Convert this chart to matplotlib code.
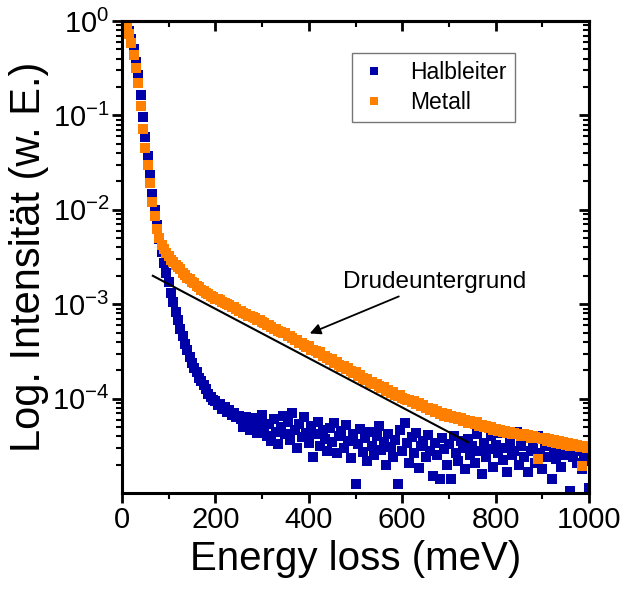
import numpy as np
import matplotlib
matplotlib.use("Agg")
import matplotlib.pyplot as plt
from matplotlib.ticker import LogLocator, LogFormatterMathtext, MultipleLocator, NullFormatter

plt.rcParams["font.family"] = ["Liberation Sans", "DejaVu Sans"]
plt.rcParams["mathtext.fontset"] = "custom"
plt.rcParams["mathtext.rm"] = "Liberation Sans"
plt.rcParams["mathtext.it"] = "Liberation Sans:italic"
plt.rcParams["mathtext.bf"] = "Liberation Sans:bold"

# energy channels (meV)
energy = np.arange(5, 1005, 5)

# log10 of intensity, one value per channel
metall_log = [
    -0.02, -0.06, -0.14, -0.23, -0.36, -0.50, -0.66, -0.90, -1.14, -1.34,
    -1.53, -1.72, -1.92, -2.07, -2.20, -2.30, -2.37, -2.42, -2.46, -2.49,
    -2.53, -2.55, -2.58, -2.61, -2.63, -2.67, -2.69, -2.72, -2.73, -2.76,
    -2.78, -2.81, -2.82, -2.85, -2.86, -2.88, -2.89, -2.91, -2.92, -2.94,
    -2.95, -2.96, -2.98, -2.99, -3.00, -3.01, -3.03, -3.03, -3.05, -3.07,
    -3.07, -3.09, -3.10, -3.12, -3.12, -3.14, -3.15, -3.17, -3.17, -3.19,
    -3.20, -3.22, -3.22, -3.24, -3.26, -3.26, -3.28, -3.29, -3.31, -3.31,
    -3.34, -3.34, -3.36, -3.38, -3.38, -3.41, -3.41, -3.43, -3.45, -3.44,
    -3.48, -3.48, -3.50, -3.52, -3.51, -3.55, -3.55, -3.57, -3.59, -3.58,
    -3.62, -3.61, -3.64, -3.66, -3.65, -3.69, -3.68, -3.71, -3.73, -3.72,
    -3.76, -3.75, -3.78, -3.80, -3.79, -3.83, -3.82, -3.85, -3.84, -3.87,
    -3.89, -3.88, -3.92, -3.91, -3.94, -3.93, -3.96, -3.97, -3.96, -3.99,
    -4.00, -4.02, -4.01, -4.04, -4.03, -4.06, -4.05, -4.08, -4.07, -4.10,
    -4.10, -4.12, -4.11, -4.14, -4.13, -4.16, -4.15, -4.18, -4.16, -4.19,
    -4.18, -4.21, -4.20, -4.22, -4.21, -4.24, -4.23, -4.26, -4.24, -4.26,
    -4.27, -4.25, -4.29, -4.28, -4.30, -4.29, -4.31, -4.30, -4.33, -4.32,
    -4.34, -4.33, -4.35, -4.34, -4.36, -4.35, -4.37, -4.36, -4.38, -4.37,
    -4.40, -4.38, -4.40, -4.39, -4.42, -4.40, -4.41, -4.64, -4.42, -4.43,
    -4.42, -4.45, -4.43, -4.46, -4.44, -4.47, -4.45, -4.48, -4.46, -4.49,
    -4.47, -4.50, -4.48, -4.50, -4.49, -4.51, -4.71, -4.50, -4.52, -4.51,
]

halbleiter_log = [
    0.00, -0.04, -0.11, -0.19, -0.30, -0.43, -0.57, -0.78, -1.02, -1.23,
    -1.43, -1.63, -1.83, -2.00, -2.16, -2.31, -2.45, -2.56, -2.67, -2.77,
    -2.88, -2.98, -3.08, -3.17, -3.26, -3.34, -3.42, -3.49, -3.56, -3.62,
    -3.68, -3.72, -3.78, -3.81, -3.86, -3.90, -3.95, -3.98, -4.02, -4.03,
    -4.07, -4.06, -4.11, -4.09, -4.14, -4.12, -4.17, -4.15, -4.20, -4.18,
    -4.22, -4.30, -4.19, -4.26, -4.33, -4.21, -4.28, -4.36, -4.24, -4.17,
    -4.31, -4.40, -4.27, -4.45, -4.22, -4.35, -4.48, -4.30, -4.18, -4.38,
    -4.25, -4.44, -4.15, -4.33, -4.52, -4.27, -4.41, -4.20, -4.36, -4.47,
    -4.29, -4.62, -4.38, -4.25, -4.50, -4.33, -4.43, -4.55, -4.31, -4.46,
    -4.26, -4.58, -4.40, -4.34, -4.52, -4.28, -4.45, -4.63, -4.37, -4.90,
    -4.48, -4.32, -4.57, -4.42, -4.66, -4.35, -4.50, -4.60, -4.40, -4.29,
    -4.54, -4.46, -4.70, -4.38, -4.51, -4.62, -4.44, -4.90, -4.33, -4.55,
    -4.26, -4.47, -4.68, -4.41, -4.58, -4.36, -4.73, -4.50, -4.45, -4.62,
    -4.39, -4.55, -4.82, -4.47, -4.60, -4.85, -4.42, -4.53, -4.70, -4.48,
    -4.85, -4.40, -4.58, -4.66, -4.45, -4.52, -4.75, -4.43, -4.60, -4.50,
    -4.68, -4.38, -4.56, -4.80, -4.47, -4.62, -4.53, -4.40, -4.72, -4.49,
    -4.58, -4.36, -4.65, -4.52, -4.78, -4.45, -4.60, -4.55, -4.35, -4.70,
    -4.50, -4.62, -4.42, -4.78, -4.55, -4.48, -4.68, -4.40, -4.58, -4.75,
    -4.50, -4.62, -4.45, -4.85, -4.55, -4.64, -4.47, -4.72, -4.56, -4.60,
    -4.50, -4.98, -4.62, -4.55, -4.68, -4.52, -4.75, -4.60, -4.65, -4.95,
]

# Drude background line (end points)
drude_e = [66, 741]
drude_i = [2.0e-3, 3.45e-5]

x_ticks = [0, 200, 400, 600, 800, 1000]
y_ticks = [1e-4, 1e-3, 1e-2, 1e-1, 1e0]

blue = "#0000A8"
orange = "#FF8000"

fig = plt.figure(figsize=(6.25, 5.97), dpi=100)
ax = fig.add_axes([0.1952, 0.1742, 0.7472, 0.7906])

ax.plot(energy, np.power(10.0, halbleiter_log), "s", color=blue, markersize=7.5,
        markeredgewidth=0, label="Halbleiter")
ax.plot(energy, np.power(10.0, metall_log), "s", color=orange, markersize=7.5,
        markeredgewidth=0, label="Metall")
ax.plot(drude_e, drude_i, color="black", linewidth=1.5)

ax.annotate("Drudeuntergrund", xy=(402, 4.9e-4), xytext=(473, 1.5e-3),
            fontsize=17.5, ha="left", va="baseline",
            arrowprops=dict(arrowstyle="-|>", color="black", lw=1.3,
                            mutation_scale=16, shrinkA=2, shrinkB=0))

ax.set_yscale("log")
ax.set_xlim(0, 1000)
ax.set_ylim(1e-5, 1)
ax.set_xticks(x_ticks)
ax.xaxis.set_minor_locator(MultipleLocator(100))
ax.set_yticks(y_ticks)
ax.yaxis.set_major_formatter(LogFormatterMathtext())
ax.yaxis.set_minor_locator(LogLocator(base=10, subs=np.arange(2, 10), numticks=20))
ax.yaxis.set_minor_formatter(NullFormatter())

ax.tick_params(which="both", direction="out", labelsize=21, width=2, pad=2,
               top=False, right=False)
ax.tick_params(which="major", length=7)
ax.tick_params(which="minor", length=4, width=1.5)
for sp in ax.spines.values():
    sp.set_linewidth(2.2)

# inward ticks on top and right
top = ax.secondary_xaxis("top")
top.set_xticks(x_ticks)
top.xaxis.set_minor_locator(MultipleLocator(100))
top.tick_params(which="both", direction="in", labeltop=False, width=2)
top.tick_params(which="major", length=7)
top.tick_params(which="minor", length=4, width=1.5)
top.spines["top"].set_linewidth(2.2)

right = ax.secondary_yaxis("right")
right.set_yticks(y_ticks)
right.yaxis.set_minor_locator(LogLocator(base=10, subs=np.arange(2, 10), numticks=20))
right.tick_params(which="both", direction="in", labelright=False, width=2)
right.tick_params(which="major", length=7)
right.tick_params(which="minor", length=4, width=1.5)
right.spines["right"].set_linewidth(2.2)

ax.set_xlabel("Energy loss (meV)", fontsize=29, labelpad=5)
ax.set_ylabel("Log. Intensität (w. E.)", fontsize=30, labelpad=2)

leg = ax.legend(loc="upper left", bbox_to_anchor=(0.4925, 0.932), fontsize=16.5,
                frameon=True, fancybox=False, edgecolor="#555555", borderaxespad=0,
                handlelength=1.2, handletextpad=1.0, borderpad=0.35, labelspacing=0.3,
                markerscale=0.8, numpoints=1)
leg.get_frame().set_linewidth(1.0)

fig.savefig("out.png", dpi=100)
